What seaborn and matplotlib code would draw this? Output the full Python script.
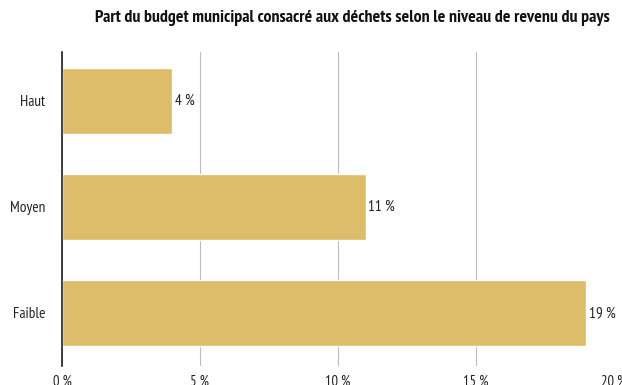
import matplotlib
matplotlib.use("Agg")
import matplotlib.pyplot as plt
import seaborn as sns
import pandas as pd

categories = ["Haut", "Moyen", "Faible"]
values = [4, 11, 19]
xticks = [0, 5, 10, 15, 20]
xticklabels = ["0 %", "5 %", "10 %", "15 %", "20 %"]
title = "Part du budget municipal consacré aux déchets selon le niveau de revenu du pays"

sns.set_theme(style="white")
plt.rcParams["font.family"] = ["PT Sans Narrow", "DejaVu Sans"]

df = pd.DataFrame({"cat": categories, "val": values})
fig = plt.figure(figsize=(6.22, 3.85), dpi=100)
ax = fig.add_axes([62/622, 1-366/385, 552/622, 314/385])
sns.barplot(data=df, y="cat", x="val", color="#DDBC6A", saturation=1, width=0.62, ax=ax, orient="h")
ax.set_xlim(0, 20)
ax.set_ylim(2.5, -0.462)
ax.set_xticks(xticks)
ax.set_xticklabels(xticklabels, fontsize=10.5, color="#222222")
ax.set_xlabel("")
ax.set_ylabel("")
ax.tick_params(axis="y", labelsize=11, colors="#222222", length=0, pad=12)
ax.tick_params(axis="x", length=0, pad=6)
ax.xaxis.grid(True, color="#bbbbbb", linewidth=0.8)
ax.set_axisbelow(True)
for s in ["top", "right", "bottom"]:
    ax.spines[s].set_visible(False)
ax.spines["left"].set_color("#222222")
ax.spines["left"].set_linewidth(1.2)
ax.spines["left"].set_zorder(5)
for c in ax.containers:
    ax.bar_label(c, labels=[f"{v} %" for v in values], padding=2, fontsize=11, color="#222222")
fig.text(352/622, 1-18/385, title, ha="center", va="center", fontsize=12.8, fontweight="bold", color="#111111")
fig.savefig("out.png", dpi=100)
